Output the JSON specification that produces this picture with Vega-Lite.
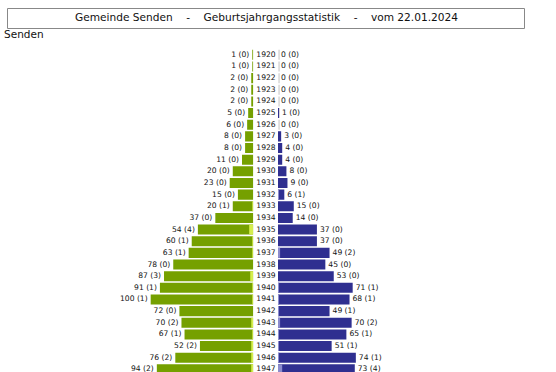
{
  "$schema": "https://vega.github.io/schema/vega-lite/v6.json",
  "padding": {"left": 3, "top": 7, "right": 0, "bottom": 0},
  "background": "white",
  "config": {
    "view": {"stroke": null},
    "font": "DejaVu Sans",
    "text": {"font": "DejaVu Sans", "color": "#111111"},
    "title": {"font": "DejaVu Sans"}
  },
  "datasets": {
    "d": [
      {"jahr": 1920, "w": 1, "wa": 0, "m": 0, "ma": 0},
      {"jahr": 1921, "w": 1, "wa": 0, "m": 0, "ma": 0},
      {"jahr": 1922, "w": 2, "wa": 0, "m": 0, "ma": 0},
      {"jahr": 1923, "w": 2, "wa": 0, "m": 0, "ma": 0},
      {"jahr": 1924, "w": 2, "wa": 0, "m": 0, "ma": 0},
      {"jahr": 1925, "w": 5, "wa": 0, "m": 1, "ma": 0},
      {"jahr": 1926, "w": 6, "wa": 0, "m": 0, "ma": 0},
      {"jahr": 1927, "w": 8, "wa": 0, "m": 3, "ma": 0},
      {"jahr": 1928, "w": 8, "wa": 0, "m": 4, "ma": 0},
      {"jahr": 1929, "w": 11, "wa": 0, "m": 4, "ma": 0},
      {"jahr": 1930, "w": 20, "wa": 0, "m": 8, "ma": 0},
      {"jahr": 1931, "w": 23, "wa": 0, "m": 9, "ma": 0},
      {"jahr": 1932, "w": 15, "wa": 0, "m": 6, "ma": 1},
      {"jahr": 1933, "w": 20, "wa": 1, "m": 15, "ma": 0},
      {"jahr": 1934, "w": 37, "wa": 0, "m": 14, "ma": 0},
      {"jahr": 1935, "w": 54, "wa": 4, "m": 37, "ma": 0},
      {"jahr": 1936, "w": 60, "wa": 1, "m": 37, "ma": 0},
      {"jahr": 1937, "w": 63, "wa": 1, "m": 49, "ma": 2},
      {"jahr": 1938, "w": 78, "wa": 0, "m": 45, "ma": 0},
      {"jahr": 1939, "w": 87, "wa": 3, "m": 53, "ma": 0},
      {"jahr": 1940, "w": 91, "wa": 1, "m": 71, "ma": 1},
      {"jahr": 1941, "w": 100, "wa": 1, "m": 68, "ma": 1},
      {"jahr": 1942, "w": 72, "wa": 0, "m": 49, "ma": 1},
      {"jahr": 1943, "w": 70, "wa": 2, "m": 70, "ma": 2},
      {"jahr": 1944, "w": 67, "wa": 1, "m": 65, "ma": 1},
      {"jahr": 1945, "w": 52, "wa": 2, "m": 51, "ma": 1},
      {"jahr": 1946, "w": 76, "wa": 2, "m": 74, "ma": 1},
      {"jahr": 1947, "w": 94, "wa": 2, "m": 73, "ma": 4}
    ]
  },
  "bounds": "flush",
  "spacing": 21,
  "vconcat": [
    {
      "width": 517,
      "height": 20,
      "view": {"stroke": "#888888", "strokeWidth": 1},
      "title": {"text": "Senden", "orient": "bottom", "anchor": "start", "dx": -3, "offset": 2, "fontSize": 10.5, "fontWeight": "normal", "color": "#111111"},
      "data": {"values": [{"t": "Gemeinde Senden\u00a0\u00a0\u00a0\u00a0-\u00a0\u00a0\u00a0\u00a0Geburtsjahrgangsstatistik\u00a0\u00a0\u00a0\u00a0-\u00a0\u00a0\u00a0\u00a0vom 22.01.2024"}]},
      "mark": {"type": "text", "fontSize": 10.6, "baseline": "middle", "dx": 1},
      "encoding": {"text": {"field": "t", "type": "nominal"}}
    },
    {
      "bounds": "flush",
      "spacing": 0,
      "data": {"name": "d"},
      "transform": [
        {"calculate": "datum.w + ' (' + datum.wa + ')'", "as": "wl"},
        {"calculate": "datum.m + ' (' + datum.ma + ')'", "as": "ml"}
      ],
      "hconcat": [
        {
          "width": 246.3,
          "height": 323,
          "encoding": {
            "y": {"field": "jahr", "type": "ordinal", "axis": null, "scale": {"range": [0, 326.2], "paddingInner": 0.14, "paddingOuter": 0.07}}
          },
          "layer": [
            {
              "mark": {"type": "bar", "color": "#75a000", "clip": true},
              "encoding": {"x": {"field": "w", "type": "quantitative", "axis": null, "scale": {"domain": [0, 227], "reverse": true}}}
            },
            {
              "mark": {"type": "bar", "color": "#d5ee4d", "clip": true},
              "encoding": {"x": {"field": "wa", "type": "quantitative"}}
            },
            {
              "mark": {"type": "text", "align": "right", "baseline": "middle", "dx": -3, "fontSize": 7.6, "clip": true},
              "encoding": {"x": {"field": "w", "type": "quantitative"}, "text": {"field": "wl", "type": "nominal"}}
            }
          ]
        },
        {
          "width": 24,
          "height": 323,
          "mark": {"type": "text", "baseline": "middle", "fontSize": 7.6, "clip": true},
          "encoding": {
            "y": {"field": "jahr", "type": "ordinal", "axis": null, "scale": {"range": [0, 326.2], "paddingInner": 0.14, "paddingOuter": 0.07}},
            "text": {"field": "jahr", "type": "nominal"}
          }
        },
        {
          "width": 273.5,
          "height": 323,
          "encoding": {
            "y": {"field": "jahr", "type": "ordinal", "axis": null, "scale": {"range": [0, 326.2], "paddingInner": 0.14, "paddingOuter": 0.07}}
          },
          "layer": [
            {
              "mark": {"type": "tick", "color": "#aaaaaa", "thickness": 1, "size": 10, "clip": true},
              "encoding": {"x": {"datum": 1, "type": "quantitative", "axis": null, "scale": {"domain": [0, 252]}}}
            },
            {
              "mark": {"type": "bar", "color": "#2f2f90", "clip": true},
              "encoding": {"x": {"field": "m", "type": "quantitative"}}
            },
            {
              "mark": {"type": "bar", "color": "#8c8ccd", "clip": true},
              "encoding": {"x": {"field": "ma", "type": "quantitative"}}
            },
            {
              "mark": {"type": "text", "align": "left", "baseline": "middle", "dx": 3, "fontSize": 7.6, "clip": true},
              "encoding": {"x": {"field": "m", "type": "quantitative"}, "text": {"field": "ml", "type": "nominal"}}
            }
          ]
        }
      ]
    }
  ]
}
